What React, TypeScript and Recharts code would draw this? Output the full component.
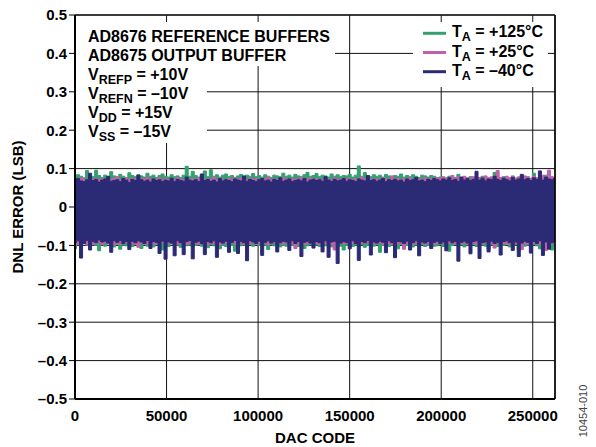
import React from "react";
import {
  ComposedChart,
  Area,
  XAxis,
  YAxis,
  CartesianGrid,
  ReferenceLine,
  Label,
} from "recharts";

// DNL error envelope (LSB) per DAC-code bin
const GREEN_UPPER = [
  0.078, 0.084, 0.080, 0.076, 0.095, 0.081, 0.079, 0.096, 0.082, 0.077,
  0.083, 0.079, 0.092, 0.081, 0.078, 0.085, 0.080, 0.077, 0.089, 0.082,
  0.079, 0.084, 0.081, 0.078, 0.088, 0.080, 0.083, 0.077, 0.082, 0.086,
  0.080, 0.078, 0.084, 0.079, 0.081, 0.077, 0.083, 0.106, 0.080, 0.093,
  0.082, 0.078, 0.081, 0.094, 0.079, 0.097, 0.080, 0.084, 0.078, 0.083,
  0.086, 0.079, 0.082, 0.077, 0.081, 0.085, 0.078, 0.083, 0.080, 0.087,
  0.079, 0.082, 0.078, 0.084, 0.080, 0.077, 0.083, 0.081, 0.079, 0.088,
  0.080, 0.083, 0.078, 0.085, 0.081, 0.079, 0.084, 0.090, 0.080, 0.082,
  0.087, 0.079, 0.083, 0.081, 0.078, 0.086, 0.080, 0.084, 0.079, 0.082,
  0.081, 0.085, 0.078, 0.083, 0.107, 0.080, 0.090, 0.082, 0.079, 0.084,
  0.080, 0.083, 0.078, 0.085, 0.081, 0.079, 0.082, 0.080, 0.086, 0.078,
  0.082, 0.079, 0.084, 0.080, 0.077, 0.083, 0.081, 0.078, 0.082, 0.080,
  0.074, 0.078, 0.072, 0.076, 0.080, 0.073, 0.077, 0.085, 0.074, 0.078,
  0.075, 0.079, 0.073, 0.077, 0.074, 0.080, 0.076, 0.072, 0.078, 0.090,
  0.075, 0.073, 0.079, 0.076, 0.074, 0.081, 0.075, 0.078, 0.073, 0.077,
  0.079, 0.074, 0.088, 0.076, 0.073, 0.078, 0.083, 0.075, 0.077, 0.074,
];
const GREEN_LOWER = [
  -0.109, -0.097, -0.101, -0.095, -0.099, -0.103, -0.096, -0.100, -0.114, -0.098,
  -0.102, -0.096, -0.100, -0.104, -0.097, -0.110, -0.099, -0.101, -0.095, -0.103,
  -0.098, -0.100, -0.108, -0.096, -0.102, -0.099, -0.104, -0.097, -0.101, -0.112,
  -0.099, -0.103, -0.096, -0.100, -0.098, -0.105, -0.097, -0.101, -0.099, -0.103,
  -0.100, -0.097, -0.102, -0.099, -0.106, -0.098, -0.101, -0.096, -0.109, -0.100,
  -0.103, -0.098, -0.100, -0.115, -0.097, -0.101, -0.099, -0.104, -0.098, -0.102,
  -0.097, -0.100, -0.103, -0.099, -0.111, -0.098, -0.101, -0.096, -0.104, -0.100,
  -0.102, -0.098, -0.100, -0.097, -0.103, -0.099, -0.108, -0.101, -0.098, -0.102,
  -0.099, -0.103, -0.097, -0.101, -0.098, -0.104, -0.100, -0.096, -0.102, -0.112,
  -0.100, -0.097, -0.103, -0.099, -0.101, -0.098, -0.105, -0.100, -0.097, -0.102,
  -0.098, -0.118, -0.100, -0.097, -0.103, -0.099, -0.101, -0.109, -0.098, -0.102,
  -0.100, -0.097, -0.104, -0.099, -0.101, -0.098, -0.103, -0.100, -0.096, -0.102,
  -0.101, -0.098, -0.103, -0.099, -0.115, -0.100, -0.097, -0.102, -0.099, -0.104,
  -0.098, -0.101, -0.097, -0.103, -0.100, -0.099, -0.102, -0.110, -0.098, -0.101,
  -0.103, -0.099, -0.100, -0.097, -0.104, -0.101, -0.098, -0.113, -0.100, -0.102,
  -0.099, -0.103, -0.098, -0.101, -0.109, -0.100, -0.097, -0.104, -0.112, -0.099,
];
const PINK_UPPER = [
  0.074, 0.071, 0.076, 0.073, 0.070, 0.078, 0.072, 0.075, 0.071, 0.074,
  0.072, 0.077, 0.071, 0.074, 0.079, 0.070, 0.073, 0.076, 0.071, 0.075,
  0.073, 0.070, 0.075, 0.072, 0.078, 0.071, 0.074, 0.072, 0.076, 0.070,
  0.075, 0.072, 0.074, 0.071, 0.077, 0.073, 0.070, 0.075, 0.072, 0.074,
  0.071, 0.076, 0.073, 0.070, 0.074, 0.072, 0.078, 0.071, 0.075, 0.073,
  0.070, 0.074, 0.072, 0.077, 0.071, 0.075, 0.073, 0.070, 0.076, 0.072,
  0.074, 0.071, 0.075, 0.073, 0.078, 0.070, 0.074, 0.072, 0.071, 0.076,
  0.073, 0.070, 0.075, 0.072, 0.074, 0.077, 0.071, 0.073, 0.076, 0.070,
  0.074, 0.072, 0.071, 0.075, 0.073, 0.070, 0.076, 0.072, 0.074, 0.071,
  0.075, 0.073, 0.070, 0.074, 0.072, 0.078, 0.071, 0.075, 0.073, 0.070,
  0.074, 0.071, 0.076, 0.073, 0.070, 0.081, 0.072, 0.075, 0.071, 0.074,
  0.072, 0.076, 0.070, 0.074, 0.073, 0.071, 0.077, 0.072, 0.075, 0.070,
  0.077, 0.074, 0.079, 0.073, 0.076, 0.082, 0.075, 0.078, 0.074, 0.080,
  0.076, 0.073, 0.079, 0.075, 0.077, 0.074, 0.081, 0.076, 0.078, 0.075,
  0.095, 0.077, 0.074, 0.080, 0.076, 0.079, 0.075, 0.078, 0.073, 0.081,
  0.077, 0.075, 0.080, 0.074, 0.078, 0.083, 0.076, 0.096, 0.079, 0.075,
];
const PINK_LOWER = [
  -0.094, -0.098, -0.092, -0.096, -0.099, -0.093, -0.097, -0.095, -0.091, -0.098,
  -0.093, -0.096, -0.094, -0.099, -0.092, -0.097, -0.095, -0.093, -0.098, -0.094,
  -0.096, -0.105, -0.093, -0.097, -0.095, -0.092, -0.098, -0.094, -0.096, -0.093,
  -0.097, -0.094, -0.096, -0.092, -0.099, -0.095, -0.093, -0.097, -0.094, -0.096,
  -0.093, -0.098, -0.095, -0.092, -0.097, -0.094, -0.096, -0.093, -0.099, -0.095,
  -0.094, -0.097, -0.092, -0.096, -0.095, -0.093, -0.098, -0.094, -0.096, -0.092,
  -0.097, -0.094, -0.095, -0.093, -0.098, -0.096, -0.092, -0.095, -0.094, -0.097,
  -0.093, -0.096, -0.094, -0.108, -0.095, -0.092, -0.097, -0.094, -0.096, -0.093,
  -0.095, -0.098, -0.093, -0.096, -0.094, -0.097, -0.112, -0.095, -0.093, -0.096,
  -0.094, -0.097, -0.095, -0.093, -0.098, -0.094, -0.096, -0.092, -0.097, -0.095,
  -0.096, -0.093, -0.097, -0.094, -0.095, -0.098, -0.093, -0.096, -0.094, -0.110,
  -0.095, -0.093, -0.097, -0.094, -0.096, -0.092, -0.098, -0.095, -0.093, -0.097,
  -0.094, -0.096, -0.093, -0.098, -0.095, -0.092, -0.097, -0.094, -0.096, -0.093,
  -0.098, -0.095, -0.093, -0.097, -0.094, -0.096, -0.092, -0.099, -0.095, -0.107,
  -0.093, -0.097, -0.095, -0.094, -0.098, -0.093, -0.096, -0.094, -0.111, -0.095,
  -0.097, -0.094, -0.096, -0.093, -0.098, -0.095, -0.113, -0.094, -0.096, -0.093,
];
const NAVY_UPPER = [
  0.070, 0.074, 0.068, 0.066, 0.071, 0.088, 0.069, 0.072, 0.065, 0.070,
  0.073, 0.080, 0.067, 0.069, 0.071, 0.066, 0.074, 0.070, 0.064, 0.072,
  0.069, 0.083, 0.071, 0.067, 0.070, 0.065, 0.073, 0.069, 0.071, 0.066,
  0.070, 0.068, 0.075, 0.066, 0.072, 0.069, 0.067, 0.078, 0.070, 0.068,
  0.071, 0.066, 0.086, 0.069, 0.072, 0.067, 0.070, 0.065, 0.074, 0.068,
  0.071, 0.069, 0.066, 0.073, 0.070, 0.068, 0.081, 0.067, 0.072, 0.069,
  0.066, 0.071, 0.074, 0.068, 0.070, 0.065, 0.072, 0.069, 0.076, 0.067,
  0.070, 0.073, 0.066, 0.069, 0.071, 0.068, 0.074, 0.065, 0.070, 0.072,
  0.069, 0.071, 0.067, 0.079, 0.070, 0.066, 0.072, 0.068, 0.070, 0.074,
  0.067, 0.071, 0.069, 0.066, 0.073, 0.070, 0.068, 0.082, 0.069, 0.071,
  0.067, 0.070, 0.074, 0.066, 0.071, 0.069, 0.072, 0.068, 0.070, 0.065,
  0.073, 0.069, 0.071, 0.077, 0.068, 0.070, 0.066, 0.072, 0.069, 0.074,
  0.071, 0.068, 0.073, 0.070, 0.076, 0.069, 0.072, 0.067, 0.078, 0.070,
  0.074, 0.069, 0.072, 0.093, 0.070, 0.075, 0.068, 0.073, 0.071, 0.080,
  0.072, 0.069, 0.075, 0.071, 0.068, 0.077, 0.070, 0.073, 0.085, 0.071,
  0.074, 0.069, 0.076, 0.072, 0.094, 0.070, 0.078, 0.073, 0.071, 0.075,
];
const NAVY_LOWER = [
  -0.092, -0.088, -0.133, -0.095, -0.087, -0.112, -0.090, -0.093, -0.086, -0.091,
  -0.089, -0.094, -0.118, -0.088, -0.092, -0.087, -0.095, -0.090, -0.111, -0.089,
  -0.093, -0.088, -0.091, -0.095, -0.087, -0.108, -0.090, -0.092, -0.121, -0.089,
  -0.136, -0.091, -0.094, -0.127, -0.088, -0.093, -0.124, -0.090, -0.087, -0.135,
  -0.092, -0.089, -0.095, -0.124, -0.090, -0.093, -0.088, -0.131, -0.091, -0.094,
  -0.089, -0.118, -0.092, -0.087, -0.121, -0.090, -0.093, -0.140, -0.088, -0.091,
  -0.095, -0.089, -0.126, -0.092, -0.088, -0.094, -0.090, -0.117, -0.093, -0.089,
  -0.091, -0.113, -0.088, -0.095, -0.090, -0.129, -0.092, -0.089, -0.094, -0.107,
  -0.090, -0.093, -0.117, -0.088, -0.131, -0.091, -0.089, -0.147, -0.094, -0.090,
  -0.092, -0.109, -0.088, -0.095, -0.139, -0.090, -0.093, -0.087, -0.125, -0.091,
  -0.094, -0.089, -0.092, -0.119, -0.088, -0.093, -0.132, -0.090, -0.091, -0.095,
  -0.089, -0.112, -0.093, -0.088, -0.127, -0.091, -0.094, -0.090, -0.108, -0.092,
  -0.089, -0.095, -0.091, -0.114, -0.088, -0.093, -0.090, -0.141, -0.092, -0.089,
  -0.094, -0.122, -0.090, -0.088, -0.134, -0.093, -0.091, -0.117, -0.089, -0.095,
  -0.092, -0.125, -0.090, -0.088, -0.093, -0.113, -0.091, -0.129, -0.094, -0.089,
  -0.092, -0.120, -0.090, -0.095, -0.088, -0.126, -0.091, -0.110, -0.093, -0.089,
];

const MAX_CODE = 262143;
const X_TICKS = [0, 50000, 100000, 150000, 200000, 250000];
const Y_TICKS = [-0.5, -0.4, -0.3, -0.2, -0.1, 0, 0.1, 0.2, 0.3, 0.4, 0.5];

const SERIES = [
  { key: "t125", label: "+125°C", color: "#34a06e" },
  { key: "t25", label: "+25°C", color: "#c25faa" },
  { key: "tm40", label: "–40°C", color: "#2b2a75" },
];

const BIN_COUNT = NAVY_UPPER.length;
const data = NAVY_UPPER.map((_, i) => ({
  code: Math.round((i * MAX_CODE) / (BIN_COUNT - 1)),
  t125: [GREEN_LOWER[i], GREEN_UPPER[i]],
  t25: [PINK_LOWER[i], PINK_UPPER[i]],
  tm40: [NAVY_LOWER[i], NAVY_UPPER[i]],
}));

const FONT = '"Liberation Sans", Arial, Helvetica, sans-serif';

const fmtY = (v: number) => {
  if (Math.abs(v) < 1e-9) return "0";
  return (v < 0 ? "–" : "") + Math.abs(v).toFixed(1);
};

const ANNOT_SIZE = 16;
const SUB_SIZE = 12.5;

const annotLines: { main: string; sub?: string; rest?: string }[] = [
  { main: "AD8676 REFERENCE BUFFERS" },
  { main: "AD8675 OUTPUT BUFFER" },
  { main: "V", sub: "REFP", rest: " = +10V" },
  { main: "V", sub: "REFN", rest: " = –10V" },
  { main: "V", sub: "DD", rest: " = +15V" },
  { main: "V", sub: "SS", rest: " = –15V" },
];

export default function App() {
  return (
    <div
      style={{
        position: "absolute",
        left: 0,
        top: 0,
        width: 596,
        height: 447,
        background: "#fff",
        fontFamily: FONT,
      }}
    >
      <ComposedChart
        width={596}
        height={447}
        data={data}
        margin={{ top: 15, right: 41, bottom: 0, left: 0 }}
        style={{ fontFamily: FONT }}
      >
        <CartesianGrid stroke="#111" strokeWidth={1} />
        <XAxis
          dataKey="code"
          type="number"
          domain={[0, MAX_CODE]}
          ticks={X_TICKS}
          interval={0}
          height={48}
          tickSize={0}
          tickMargin={11}
          tickLine={false}
          axisLine={{ stroke: "#000", strokeWidth: 2 }}
          tick={{ fill: "#000", fontSize: 15, fontWeight: "bold", fontFamily: FONT }}
        >
          <Label
            value="DAC CODE"
            position="insideBottom"
            offset={4}
            style={{ fontSize: 15, fontWeight: "bold", fill: "#000", fontFamily: FONT }}
          />
        </XAxis>
        <YAxis
          type="number"
          domain={[-0.5, 0.5]}
          ticks={Y_TICKS}
          interval={0}
          width={75}
          tickSize={6}
          tickMargin={2}
          tickFormatter={fmtY}
          tickLine={{ stroke: "#000", strokeWidth: 1 }}
          axisLine={{ stroke: "#000", strokeWidth: 2 }}
          tick={{ fill: "#000", fontSize: 15, fontWeight: "bold", fontFamily: FONT }}
        >
          <Label
            value="DNL ERROR (LSB)"
            angle={-90}
            position="insideLeft"
            offset={18}
            style={{
              fontSize: 15,
              fontWeight: "bold",
              fill: "#000",
              textAnchor: "middle",
              fontFamily: FONT,
            }}
          />
        </YAxis>
        {SERIES.map((s) => (
          <Area
            key={s.key}
            dataKey={s.key}
            type="step"
            stroke={s.color}
            strokeWidth={1}
            fill={s.color}
            fillOpacity={1}
            dot={false}
            activeDot={false}
            isAnimationActive={false}
          />
        ))}
        <ReferenceLine x={MAX_CODE} stroke="#000" strokeWidth={1.5} />
        <ReferenceLine y={0.5} stroke="#222" strokeWidth={1.5} />
      </ComposedChart>
      <svg
        width={596}
        height={447}
        style={{ position: "absolute", left: 0, top: 0, pointerEvents: "none" }}
      >
        <rect x={76} y={22} width={259} height={44} fill="#fff" />
        <rect x={76} y={22} width={131} height={121} fill="#fff" />
        <g fontFamily={FONT} fontWeight="bold" fill="#000">
          {annotLines.map((l, i) => (
            <text key={i} x={88} y={41.5 + i * 19.1} fontSize={ANNOT_SIZE}>
              {l.main}
              {l.sub ? (
                <tspan fontSize={SUB_SIZE} dy={4}>
                  {l.sub}
                </tspan>
              ) : null}
              {l.rest ? <tspan dy={-4}>{l.rest}</tspan> : null}
            </text>
          ))}
        </g>
        <rect x={413} y={22} width={135} height={65} fill="#fff" />
        <g fontFamily={FONT} fontWeight="bold" fill="#000">
          {SERIES.map((s, i) => (
            <g key={s.key}>
              <line
                x1={423}
                x2={446}
                y1={33.3 + i * 19.2}
                y2={33.3 + i * 19.2}
                stroke={s.color}
                strokeWidth={3}
              />
              <text x={452} y={37.3 + i * 19.3} fontSize={ANNOT_SIZE}>
                T
                <tspan fontSize={SUB_SIZE} dy={4}>
                  A
                </tspan>
                <tspan dy={-4}>{" = " + s.label}</tspan>
              </text>
            </g>
          ))}
        </g>
        <text
          x={587}
          y={411}
          transform="rotate(-90 587 411)"
          textAnchor="middle"
          fontFamily={FONT}
          fontSize={11}
          fill="#444"
        >
          10454-010
        </text>
      </svg>
    </div>
  );
}
